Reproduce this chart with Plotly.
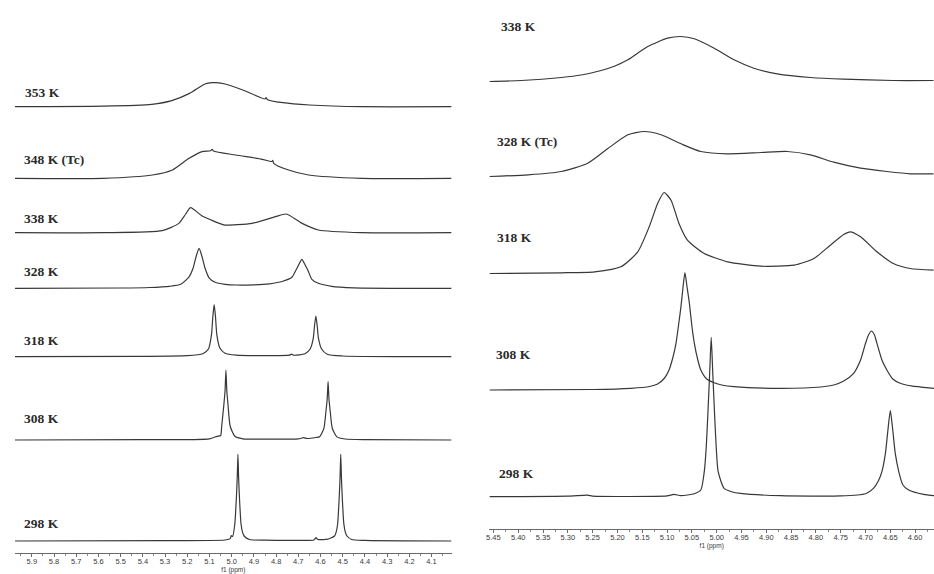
import plotly.graph_objects as go

W, H = 934, 574

# ---------------- left series: 1H spectra, 353 K down to 298 K ----------------
# chemical shift (ppm) and intensity above the trace's own baseline
L353_ppm = [5.976, 5.58, 5.36, 5.27, 5.19, 5.12, 5.088, 5.07, 5.03, 4.95, 4.85, 4.845, 4.84, 4.77, 4.65, 4.41, 4.01]
L353_int = [0, 0.5, 2.3, 6, 13.3, 22.7, 24, 24, 22.7, 16.7, 7.7, 9.0, 7.3, 4, 1.7, 0, 0]

L348_ppm = [5.976, 5.58, 5.357, 5.267, 5.192, 5.133, 5.095, 5.088, 5.082, 4.983, 4.863, 4.82, 4.815, 4.811, 4.744, 4.654, 4.414, 4.01]
L348_int = [0, 0, 3.3, 8.3, 20, 26.7, 27.5, 29, 27.3, 23.3, 19, 16.8, 18, 15, 8.3, 3.3, 0, 0]

L338_ppm = [5.976, 5.581, 5.313, 5.238, 5.207, 5.185, 5.133, 5.043, 5.03, 4.908, 4.803, 4.754, 4.683, 4.609, 4.414, 4.01]
L338_int = [0, 0, 2, 9.3, 18.7, 25, 16.7, 8.3, 7.6, 9.3, 16, 18.7, 9.3, 2.7, 0, 0]

L328_ppm = [5.976, 5.50, 5.37, 5.28, 5.23, 5.192, 5.174, 5.160, 5.147, 5.134, 5.120, 5.102, 5.075,
            5.03, 4.98, 4.90, 4.83, 4.77, 4.729, 4.711, 4.697, 4.684, 4.671, 4.657, 4.639, 4.61, 4.55, 4.45, 4.01]
L328_int = [0, 0.3, 0.8, 2, 4, 11.5, 20, 32, 40, 32, 20, 10.5, 6,
            4, 3.3, 3.5, 4.5, 7, 11, 18, 24, 29, 24, 18, 9, 5, 2, 0.5, 0]

L318_ppm = [5.976, 5.40, 5.20, 5.13, 5.104, 5.091, 5.085, 5.079, 5.073, 5.067, 5.054, 5.03, 4.98, 4.85,
            4.74, 4.73, 4.72, 4.67, 4.646, 4.633, 4.627, 4.621, 4.615, 4.609, 4.596, 4.57, 4.50, 4.01]
L318_int = [0, 0.3, 1, 3, 8, 22, 40, 52, 40, 22, 9, 3.5, 1.5, 1,
            1.5, 2.5, 1.5, 3, 8, 18, 31, 40.7, 31, 18, 8, 2.5, 0.7, 0]

L308_ppm = [5.976, 5.40, 5.10, 5.066, 5.050, 5.045, 5.0355, 5.030, 5.026, 5.022, 5.0165, 5.007, 4.986, 4.95,
            4.85, 4.70, 4.676, 4.66, 4.62, 4.604, 4.585, 4.5755, 4.570, 4.566, 4.562, 4.5565, 4.547, 4.526, 4.49, 4.40, 4.01]
L308_int = [0, 0.3, 1.2, 3.7, 4.5, 14, 35, 49, 70, 49, 35, 14, 3.7, 1.2,
            0.8, 1.2, 2.3, 1.5, 2.5, 3.2, 11.7, 29, 41, 58.3, 41, 29, 11.7, 3.1, 1, 0.3, 0]

L298_ppm = [5.976, 5.30, 5.10, 5.03, 5.010, 5.006, 5.002, 4.996, 4.986, 4.979, 4.975, 4.972, 4.969, 4.965,
            4.958, 4.951, 4.944, 4.92, 4.85, 4.70, 4.63, 4.620, 4.612, 4.58, 4.575, 4.57, 4.537, 4.530, 4.523,
            4.516, 4.512, 4.509, 4.506, 4.502, 4.495, 4.488, 4.481, 4.46, 4.40, 4.01]
L298_int = [0, 0.3, 0.5, 1, 2, 2.5, 5.5, 4.5, 17, 43, 64, 87, 64, 43,
            17, 8.7, 5, 1.5, 0.8, 0.6, 1, 3.3, 1.5, 1.5, 2, 1.6, 5, 8.7, 17,
            43, 64, 87, 64, 43, 17, 8.7, 5, 1.5, 0.6, 0]

# ---------------- right series: 1H spectra, 338 K down to 298 K ----------------
R338_ppm = [5.458, 5.394, 5.313, 5.273, 5.233, 5.205, 5.179, 5.139, 5.099, 5.072, 5.045, 5.005, 4.965, 4.925, 4.878,
            4.811, 4.744, 4.644, 4.563]
R338_int = [0, 1, 4, 6.5, 11, 15.5, 21.7, 35, 43.3, 45, 42.7, 33.3, 21.7, 13.3, 7.7, 4, 2.3, 1, 1]

R328_ppm = [5.458, 5.380, 5.313, 5.260, 5.220, 5.179, 5.146, 5.112, 5.072, 5.032, 4.978, 4.911, 4.858,
            4.811, 4.764, 4.710, 4.657, 4.610, 4.563]
R328_int = [0, 1.7, 5, 13.3, 27.7, 41.7, 45, 41.7, 32.7, 25, 22.7, 24, 25,
            21.7, 14.3, 8.3, 5, 2.7, 2.7]

R318_ppm = [5.458, 5.313, 5.246, 5.193, 5.159, 5.136, 5.119, 5.106, 5.092, 5.076, 5.059, 5.025, 4.978,
            4.911, 4.844, 4.804, 4.771, 4.744, 4.731, 4.710, 4.677, 4.644, 4.610, 4.563]
R318_int = [0, 0.7, 1.7, 6.7, 21.7, 46.7, 70, 81, 73.3, 50, 33.3, 20, 11.7,
            7.3, 8.3, 15, 28.3, 39, 41.7, 36.7, 21.7, 10, 5, 3.3]

R308_ppm = [5.458, 5.250, 5.173, 5.135, 5.119, 5.105, 5.096, 5.088, 5.082, 5.076, 5.072, 5.068, 5.064,
            5.060, 5.055, 5.050, 5.045, 5.038, 5.032, 5.020, 5.005, 4.990, 4.965,
            4.871, 4.790, 4.764, 4.744, 4.724, 4.710, 4.700, 4.694, 4.688, 4.682, 4.677, 4.667, 4.657,
            4.645, 4.630, 4.605, 4.583, 4.562]
R308_int = [0, 0.5, 1.7, 3.5, 6, 12, 20, 33, 46.7, 68, 83.3, 102, 117.3,
            104, 86.7, 64, 46.7, 30, 20, 11, 7.3, 5, 3.3,
            1.7, 3, 5, 9, 16.7, 30, 46.7, 55, 59, 55, 46.7, 30, 20,
            11, 6.7, 3.8, 2.7, 1.7]

R298_ppm = [5.458, 5.30, 5.26, 5.25, 5.10, 5.086, 5.072, 5.045, 5.032, 5.025, 5.021, 5.018, 5.014, 5.011,
            5.008, 5.004, 5.001, 4.997, 4.985, 4.970, 4.952, 4.871, 4.75, 4.70, 4.684, 4.674, 4.667, 4.660,
            4.655, 4.650, 4.645, 4.640, 4.633, 4.625, 4.613, 4.583, 4.562]
R298_int = [0, 0.5, 1.5, 0.6, 0.8, 2.3, 1, 3, 6.7, 25, 50, 80, 125, 159.4,
            125, 80, 50, 25, 8.3, 5, 3.3, 1, 0.8, 3, 8.3, 16, 25, 43,
            66, 86, 66, 43, 25, 12, 6.7, 2.3, 1]

left_labels = ["353 K", "348 K (Tc)", "338 K", "328 K", "318 K", "308 K", "298 K"]
left_ppm = [L353_ppm, L348_ppm, L338_ppm, L328_ppm, L318_ppm, L308_ppm, L298_ppm]
left_int = [L353_int, L348_int, L338_int, L328_int, L318_int, L308_int, L298_int]

right_labels = ["338 K", "328 K (Tc)", "318 K", "308 K", "298 K"]
right_ppm = [R338_ppm, R328_ppm, R318_ppm, R308_ppm, R298_ppm]
right_int = [R338_int, R328_int, R318_int, R308_int, R298_int]

# ---------------- layout of the stacks (pixel space) ----------------
LEFT_AXIS_Y = 553      # pixel row of the left ppm axis
RIGHT_AXIS_Y = 529     # pixel row of the right ppm axis
left_base_px = [106.7, 178.3, 232.7, 288.3, 356.7, 440.0, 541.0]
right_base_px = [81.5, 176.5, 273.5, 390.0, 496.7]
left_label_pos = [(20, 92), (19, 160), (19, 218), (19, 271), (19, 340), (19, 418), (19, 523)]
right_label_pos = [(498, 27), (494, 141), (494, 238), (493, 354), (496, 473)]

LINE = dict(color="#383838", width=1.2, shape="spline", smoothing=0.6)


def px(x, y):
    return x / W, 1 - y / H


fig = go.Figure()

for name, xs, ys, base in zip(left_labels, left_ppm, left_int, left_base_px):
    off = LEFT_AXIS_Y - base
    fig.add_trace(go.Scatter(x=xs, y=[v + off for v in ys], mode="lines", line=LINE,
                             name=name, xaxis="x", yaxis="y", showlegend=False))

for name, xs, ys, base in zip(right_labels, right_ppm, right_int, right_base_px):
    off = RIGHT_AXIS_Y - base
    fig.add_trace(go.Scatter(x=xs, y=[v + off for v in ys], mode="lines", line=LINE,
                             name=name, xaxis="x2", yaxis="y2", showlegend=False))

annotations = []
label_font = dict(family="Liberation Serif, Times New Roman, serif", size=13.5, color="#2a2a2a")
for text, (lx, ly) in list(zip(left_labels, left_label_pos)) + list(zip(right_labels, right_label_pos)):
    ax, ay = px(lx, ly)
    annotations.append(dict(text=f"<b>{text}</b>", x=ax, y=ay, xref="paper", yref="paper",
                            xanchor="left", yanchor="middle", showarrow=False, font=label_font))

NARROW = "Liberation Sans Narrow, Liberation Sans, Arial, sans-serif"
tick_font = dict(family=NARROW, size=7.5, color="#3a3a3a")
axis_common = dict(showgrid=False, zeroline=False, showline=True, linecolor="#6a6a6a", linewidth=1,
                   ticks="outside", ticklen=3, tickcolor="#6a6a6a", tickfont=tick_font,
                   ticklabelstandoff=-2,
                   title=dict(text="f1 (ppm)", font=dict(size=6.5, color="#3a3a3a", family=NARROW), standoff=1))

fig.update_layout(
    width=W, height=H,
    margin=dict(l=0, r=0, t=0, b=0),
    paper_bgcolor="white", plot_bgcolor="white",
    xaxis=dict(domain=[12 / W, 450 / W], range=[5.976, 4.01], dtick=0.1, tick0=0, tickformat=".1f",
               anchor="y", minor=dict(dtick=0.05, ticks="outside", ticklen=2, tickcolor="#888888"),
               **axis_common),
    xaxis2=dict(domain=[488 / W, 1.0], range=[5.458, 4.562], dtick=0.05, tick0=0, tickformat=".2f",
                anchor="y2", minor=dict(dtick=0.025, ticks="outside", ticklen=2, tickcolor="#888888"),
                **axis_common),
    yaxis=dict(domain=[1 - LEFT_AXIS_Y / H, 1], range=[0, LEFT_AXIS_Y], visible=False, anchor="x"),
    yaxis2=dict(domain=[1 - RIGHT_AXIS_Y / H, 1], range=[0, RIGHT_AXIS_Y], visible=False, anchor="x2"),
    annotations=annotations,
)

fig.write_html("out.html")
